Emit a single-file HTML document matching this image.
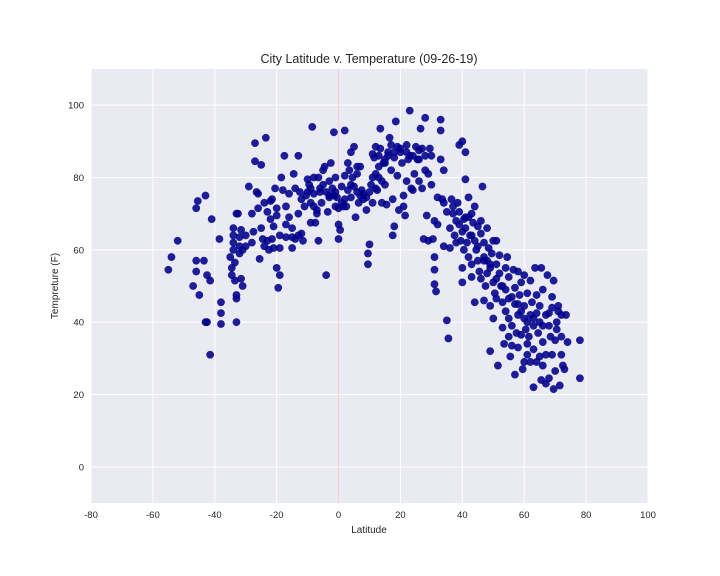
<!DOCTYPE html>
<html><head><meta charset="utf-8"><style>
html,body{margin:0;padding:0;background:#fff;}
svg{display:block;font-family:"Liberation Sans","DejaVu Sans",sans-serif;}
</style></head><body>
<svg id="chart" width="720" height="576">
<rect x="91" y="69" width="557" height="434" fill="#eaeaf2"/>
<g id="grid"></g>
<g id="pts"></g>
<g id="ticks"></g>
<text x="369" y="63" text-anchor="middle" font-size="12.5" fill="#262626">City Latitude v. Temperature (09-26-19)</text>
<text x="369" y="533" text-anchor="middle" font-size="10" fill="#262626">Latitude</text>
<text x="0" y="0" transform="translate(58,286) rotate(-90)" text-anchor="middle" font-size="10" fill="#262626">Tempreture (F)</text>
</svg>
<script>
const xTicks=[-80,-60,-40,-20,0,20,40,60,80,100];
const yTicks=[0,20,40,60,80,100];
const lats=[-55,-54,-52,-47,-46,-46,-46,-45.5,-45,-43.5,-43,-43,-42.5,-42.5,-41.5,-41.5,-41,-38.5,-38,-38,-38,-35,-34.5,-34.5,-34,-34,-34,-34,-33.5,-33.5,-33,-33,-33,-33,-32.5,-32,-32,-32,-31.5,-31.5,-31,-31,-30,-30,-29,-28,-27.5,-27,-27,-26.5,-26,-26,-25.5,-25,-25,-24.5,-24,-23.5,-23,-23,-22.5,-22,-22,-21.5,-21.5,-21,-21,-20.5,-20,-20,-20,-19.5,-19,-19,-19,-18.5,-18,-17.5,-17,-17,-16,-16,-15,-15,-15,-14.5,-14,-14,-13,-13,-12.5,-12,-11.5,-11,-10.5,-10,-9.5,-9,-9,-8.5,-8,-8,-7.5,-7,-7,-6.5,-6.5,-6,-6,-5.5,-5,-4.5,-4,-4,-3.5,-3,-3,-2.5,-2,-1.5,-1.5,-1,-1,-0.5,0,0,0,0.5,1,1,1.5,2,2,2.5,3,3,3.5,4,4,4.5,5,5,5.5,6,6,6.5,7,7,7.5,8,9,9,9.5,9.5,10,10,10.5,11,11,11.5,12,12,12,12.5,13,13,13.5,13.5,14,14,14.5,15,15,15.5,16,16.5,17,17,17.5,17.5,18,18,18.5,19,19,19.5,20,20.5,21,21,21.5,22,22,22.5,23,23,23.5,24,24.5,25,25.5,26,26,26.5,27,27,27.5,28,28,28.5,29,29,29.5,30,30,30.5,31,31,31,31,31.5,32,32,33,33,33,33.5,34,34,34,35,35,35.5,36,36,36.5,37,37.5,38,38,38.5,39,39,39.5,40,40,40,40,40.5,40.5,41,41,41,41.5,42,42,42,42.5,43,43,43,43.5,44,44,44,44.5,45,45,45.5,46,46,46,46.5,47,47,47,47.5,48,48,48,48.5,49,49,49,49.5,50,50,50,50.5,51,51,51,51.5,52,52,52.5,53,53,53.5,54,54,54,54.5,55,55,55,55,55.5,56,56,56.5,57,57,57,57.5,58,58,58,58.5,59,59,59,59.5,60,60,60,60,60.5,61,61,61,61.5,62,62,62,62.5,63,63,63,63.5,64,64,64,64.5,65,65,65,65.5,65.5,66,66,66,67,67,67,67.5,68,68,68,68.5,69,69,69,69.5,69.5,70,70,70.5,70.5,71,71,71.5,72,72,72,72.5,73,73.5,74,78,78,-12,-10,-8,-5,-3,-1,2,4,6,8,11,13,15,16,18,20,22,24,26,28,-28,-24,-17,-13,-9,37,39,41,43,45,47,49,51,53,56,58,61,63,66];
const temps=[54.5,58,62.5,50,57,54,71.5,73.5,47.5,57,75,40,40,53,51.5,31,68.5,63,39.5,45.5,42.5,58,55,53,66,64,62,60,56.5,51.5,40,46.5,47.5,70,70,63.5,59,61,65.5,52,50,60,61,64,77.5,62,65,89.5,84.5,76,75.5,71.5,57.5,66,83.5,63,61,91,70.5,62.5,60,73.5,68.5,74,63,66.5,60.5,77,69.5,71.5,55,49.5,53,60.5,64,80,76.5,86,67,63.5,69,75.5,63.5,66,60.5,81,77,63,86,64,76,64.5,62.5,72,75,79.5,78,67.5,73,94,80,75.5,67.5,71,70,62.5,80,76,77,73,82,83,76,53,70.5,79,74.5,84,77,92.5,75,80,72,74.5,71.5,63,67,65.5,73,77.5,72,80.5,93,72,84,76.5,82,74.5,87,80,88.5,77.5,69,81,83,73,75,83,76.5,75.5,71,74.5,56,59,61.5,76,78,86.5,73,85.5,77,81,88.5,76.5,80,83,93.5,88,73,79,84,78,85,72.5,86,91,89,82,74,64,66.5,85.5,95.5,88.5,80.5,71,87,84,75,72,69.5,89,79,85,98.5,86,77,76.5,81,88.5,85,79,87.5,93.5,77,88,63,82,96.5,69.5,81,62.5,88,78,86,63,68,58,54.5,50.5,48.5,74.5,67,85,93,96,74,82,61,73,70.5,40.5,35.5,60.5,66,74,72,64,68,62,73,89,70.5,62.5,65,90,55,51,60,68.5,87,79.5,66,62,74.5,69,58,64,52.5,56,70,67.5,72,45.5,62.5,60,66.5,57,54,64.5,68,52,77.5,58,62,46,50,57,53.5,66,60.5,32,44.5,55,59,62.5,51,41,48,56,46.5,62.5,28,53.5,58.5,50,45.5,38.5,34,55,49,43,58,36,41,46.5,52.5,30.5,33.5,39,54.5,25.5,45,49.5,37,42,33,54,47.5,51,43,36.5,27,29,41,44.5,53,38,31,48,34,36,42,29,51.5,45.5,22,39,32.5,55,42.5,47.5,29,37,40,44.5,30.5,24,55,49,34.5,28,42,31,23,53,42.5,39,24.5,36,44,31,47,21.5,51.5,35,26.5,40,38,43,44.5,22.5,42,36,31,28,27,42,34.5,35,24.5,74,76,72,78,75,76,74,78,76,74,80,86,84,87,87,88,87,86,85,86,70,73,72,70,77,70,67,69,64,61,57,56,52,50,47,45,40,41,39];
const svg=document.getElementById('chart');
const NS='http://www.w3.org/2000/svg';
const X0=91,X1=648,Y0=503,Y1=69;
const xs=v=>X0+(v+80)/180*(X1-X0);
const ys=v=>Y0-(v+10)/120*(Y0-Y1);
const grid=document.getElementById('grid'),tk=document.getElementById('ticks'),pts=document.getElementById('pts');
function mk(tag,at,parent){const e=document.createElementNS(NS,tag);for(const k in at)e.setAttribute(k,at[k]);parent.appendChild(e);return e;}
xTicks.forEach(t=>{
 const l=mk('line',{x1:xs(t),x2:xs(t),y1:Y1,y2:Y0,stroke:'#fff','stroke-width':1},grid);
 
 
 const tx=mk('text',{x:xs(t),y:Y0+15,'text-anchor':'middle','font-size':9.5,fill:'#262626'},tk);
 tx.textContent=t;
 
 
});
yTicks.forEach(t=>{
 const l=mk('line',{x1:X0,x2:X1,y1:ys(t),y2:ys(t),stroke:'#fff','stroke-width':1},grid);
 
 
 const tx=mk('text',{x:X0-7,y:ys(t)+3.5,'text-anchor':'end','font-size':9.5,fill:'#262626'},tk);
 tx.textContent=t;
 
 
});
const zl=mk('line',{x1:xs(0),x2:xs(0),y1:Y1,y2:Y0,stroke:'#f2b8b8','stroke-width':1,opacity:0.7},grid);


lats.forEach((la,i)=>{
 const c=mk('circle',{cx:xs(la),cy:ys(temps[i]),r:3.9,fill:'#00008b','fill-opacity':0.88},pts);
 
 
});
</script>
</body></html>
